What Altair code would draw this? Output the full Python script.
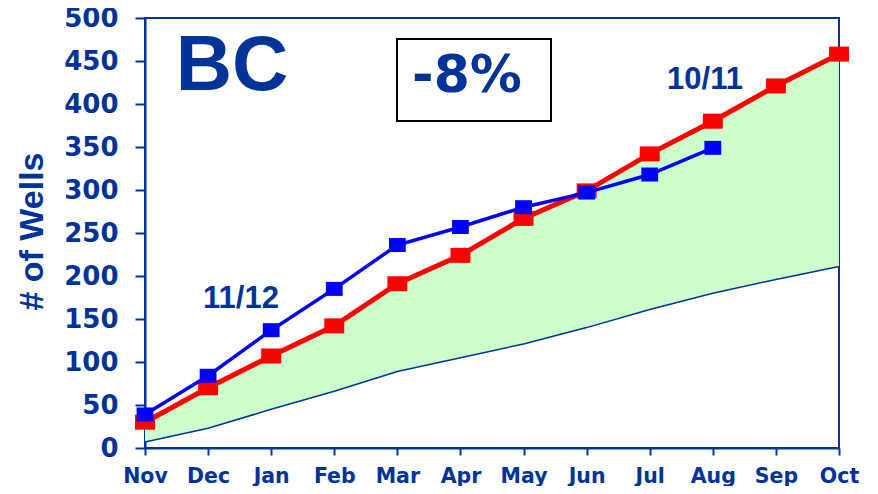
import altair as alt
import pandas as pd

months = ["Nov", "Dec", "Jan", "Feb", "Mar", "Apr", "May", "Jun", "Jul", "Aug", "Sep", "Oct"]
red_1011 = [30, 70, 107, 142, 191, 224, 267, 299, 342, 380, 421, 458]
blue_1112 = [39, 84, 137, 185, 236, 257, 280, 297, 318, 349]
lower = [7, 23, 45, 66, 89, 105, 121, 140, 161, 180, 196, 211]

NAVY = "#003399"

df_red = pd.DataFrame({"month": months, "wells": red_1011, "low": lower})
df_blue = pd.DataFrame({"month": months[:len(blue_1112)], "wells": blue_1112})

xenc = alt.X("month:N", sort=months, scale=alt.Scale(type="point", padding=0),
             axis=alt.Axis(title=None, labelFont="DejaVu Sans", labelFontWeight="bold",
                           labelFontSize=20.5, labelColor=NAVY, labelAngle=0,
                           labelBaseline="alphabetic",
                           tickSize=7, tickWidth=2, tickColor=NAVY,
                           domainColor=NAVY, domainWidth=2, labelPadding=27))
yscale = alt.Scale(domain=[0, 500], nice=False)
yaxis = alt.Axis(title="# of Wells", values=list(range(0, 501, 50)),
                 labelFont="DejaVu Sans", labelFontWeight="bold", labelFontSize=26,
                 labelColor=NAVY, tickSize=10, tickWidth=2, tickColor=NAVY,
                 domainColor=NAVY, domainWidth=2, labelPadding=17, grid=False,
                 titleFont="Liberation Sans", titleFontWeight="bold", titleFontSize=34,
                 titleColor=NAVY, titleX=-113, titleY=213, titleAngle=-90,
                 titleAlign="center", titleBaseline="middle")

area = alt.Chart(df_red).mark_area(color="#CCFFCC", opacity=1).encode(
    x=xenc, y=alt.Y("wells:Q", scale=yscale, axis=yaxis), y2="low:Q")
low_line = alt.Chart(df_red).mark_line(color=NAVY, strokeWidth=1.5).encode(
    x=xenc, y=alt.Y("low:Q", scale=yscale, axis=yaxis))
red_line = alt.Chart(df_red).mark_line(color="#FF0000", strokeWidth=5).encode(
    x=xenc, y=alt.Y("wells:Q", scale=yscale, axis=yaxis))
red_pts = alt.Chart(df_red).mark_point(
    shape="M-1.33,-1H1.33V1H-1.33Z", filled=True, color="#FF0000", opacity=1, size=225
).encode(x=xenc, y=alt.Y("wells:Q", scale=yscale, axis=yaxis))
blue_line = alt.Chart(df_blue).mark_line(color="#0000FF", strokeWidth=3.5).encode(
    x=xenc, y=alt.Y("wells:Q", scale=yscale, axis=yaxis))
blue_pts = alt.Chart(df_blue).mark_point(
    shape="M-1.2,-1H1.2V1H-1.2Z", filled=True, color="#0000FF", opacity=1, size=196
).encode(x=xenc, y=alt.Y("wells:Q", scale=yscale, axis=yaxis))

box = alt.Chart(pd.DataFrame({"a": [0]})).mark_rect(
    fill="white", stroke="black", strokeWidth=2).encode(
    x=alt.value(252), x2=alt.value(406), y=alt.value(21), y2=alt.value(103))

def label(txt, x, y, size, font="Liberation Sans"):
    return alt.Chart(pd.DataFrame({"t": [txt]})).mark_text(
        font=font, fontWeight="bold", fontSize=size, color=NAVY,
        align="center", baseline="middle").encode(
        text="t:N", x=alt.value(x), y=alt.value(y))

chart = alt.layer(
    area, low_line, red_line, red_pts, blue_line, blue_pts, box,
    label("BC", 87, 49, 78),
    label("-8%", 322, 58, 52, font="DejaVu Sans"),
    label("10/11", 560, 62, 31),
    label("11/12", 96, 281, 31),
).properties(
    width=694, height=430,
    autosize=alt.AutoSizeParams(type="none"),
    padding={"left": 137, "top": 10, "right": 30, "bottom": 38},
).configure_view(stroke=NAVY, strokeWidth=2)

chart.save("out.html", embed_options={"renderer": "svg", "actions": False})
